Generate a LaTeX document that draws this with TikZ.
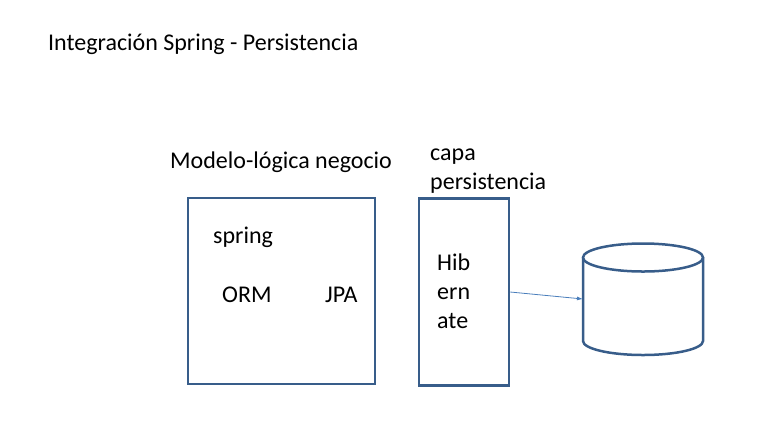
\documentclass[tikz,border=0pt]{standalone}
\usepackage{fontspec}
\setmainfont{Carlito}
\usetikzlibrary{arrows.meta}
\definecolor{boxblue}{HTML}{385D8A}
\definecolor{arrowblue}{HTML}{4A7EBB}
\tikzset{
  caja/.style={draw=boxblue, line width=2.5bp, minimum width=#1, inner sep=0pt},
  txt/.style={anchor=base west, inner sep=0pt, font=\fontsize{24bp}{29bp}\selectfont}
}
\begin{document}
\begin{tikzpicture}[x=1bp, y=-1bp]
            \useasboundingbox (0,0) rectangle (761,432);
            \node[txt] (titulo) at (48,50) {Integración Spring - Persistencia};
            % Boxes
            \node[caja=187bp, minimum height=186bp] (logica) at (281.5,291) {};
            \node[caja=90bp, minimum height=187bp] (persist) at (464,292) {};
            \node[txt] (logicalbl) at (170,168) {Modelo-lógica negocio};
            % multi-line nodes: base is the last line
            \node[txt, align=left] (capalbl) at (430,189) {capa\\persistencia};
            \node[txt] (spring) at (213,243) {spring};
            \node[txt] (orm) at (222,302) {ORM};
            \node[txt] (jpa) at (325,302) {JPA};
            \node[txt, align=left] (hib) at (437,328) {Hib\\ern\\ate};
            % Database
            \draw[boxblue, line width=2.5bp] (583,257.5) -- (583,341) arc[start angle=180, end angle=0, x radius=60, y radius=14] -- (703,257.5);
            \draw[boxblue, line width=2.5bp, fill=white] (643,257.5) ellipse[x radius=60, y radius=14];
            \coordinate (db) at (583,299);
            \draw[-{Latex[length=6bp, width=4bp]}, arrowblue, line width=0.8bp] (persist.east) -- (db);
        \end{tikzpicture}
\end{document}
